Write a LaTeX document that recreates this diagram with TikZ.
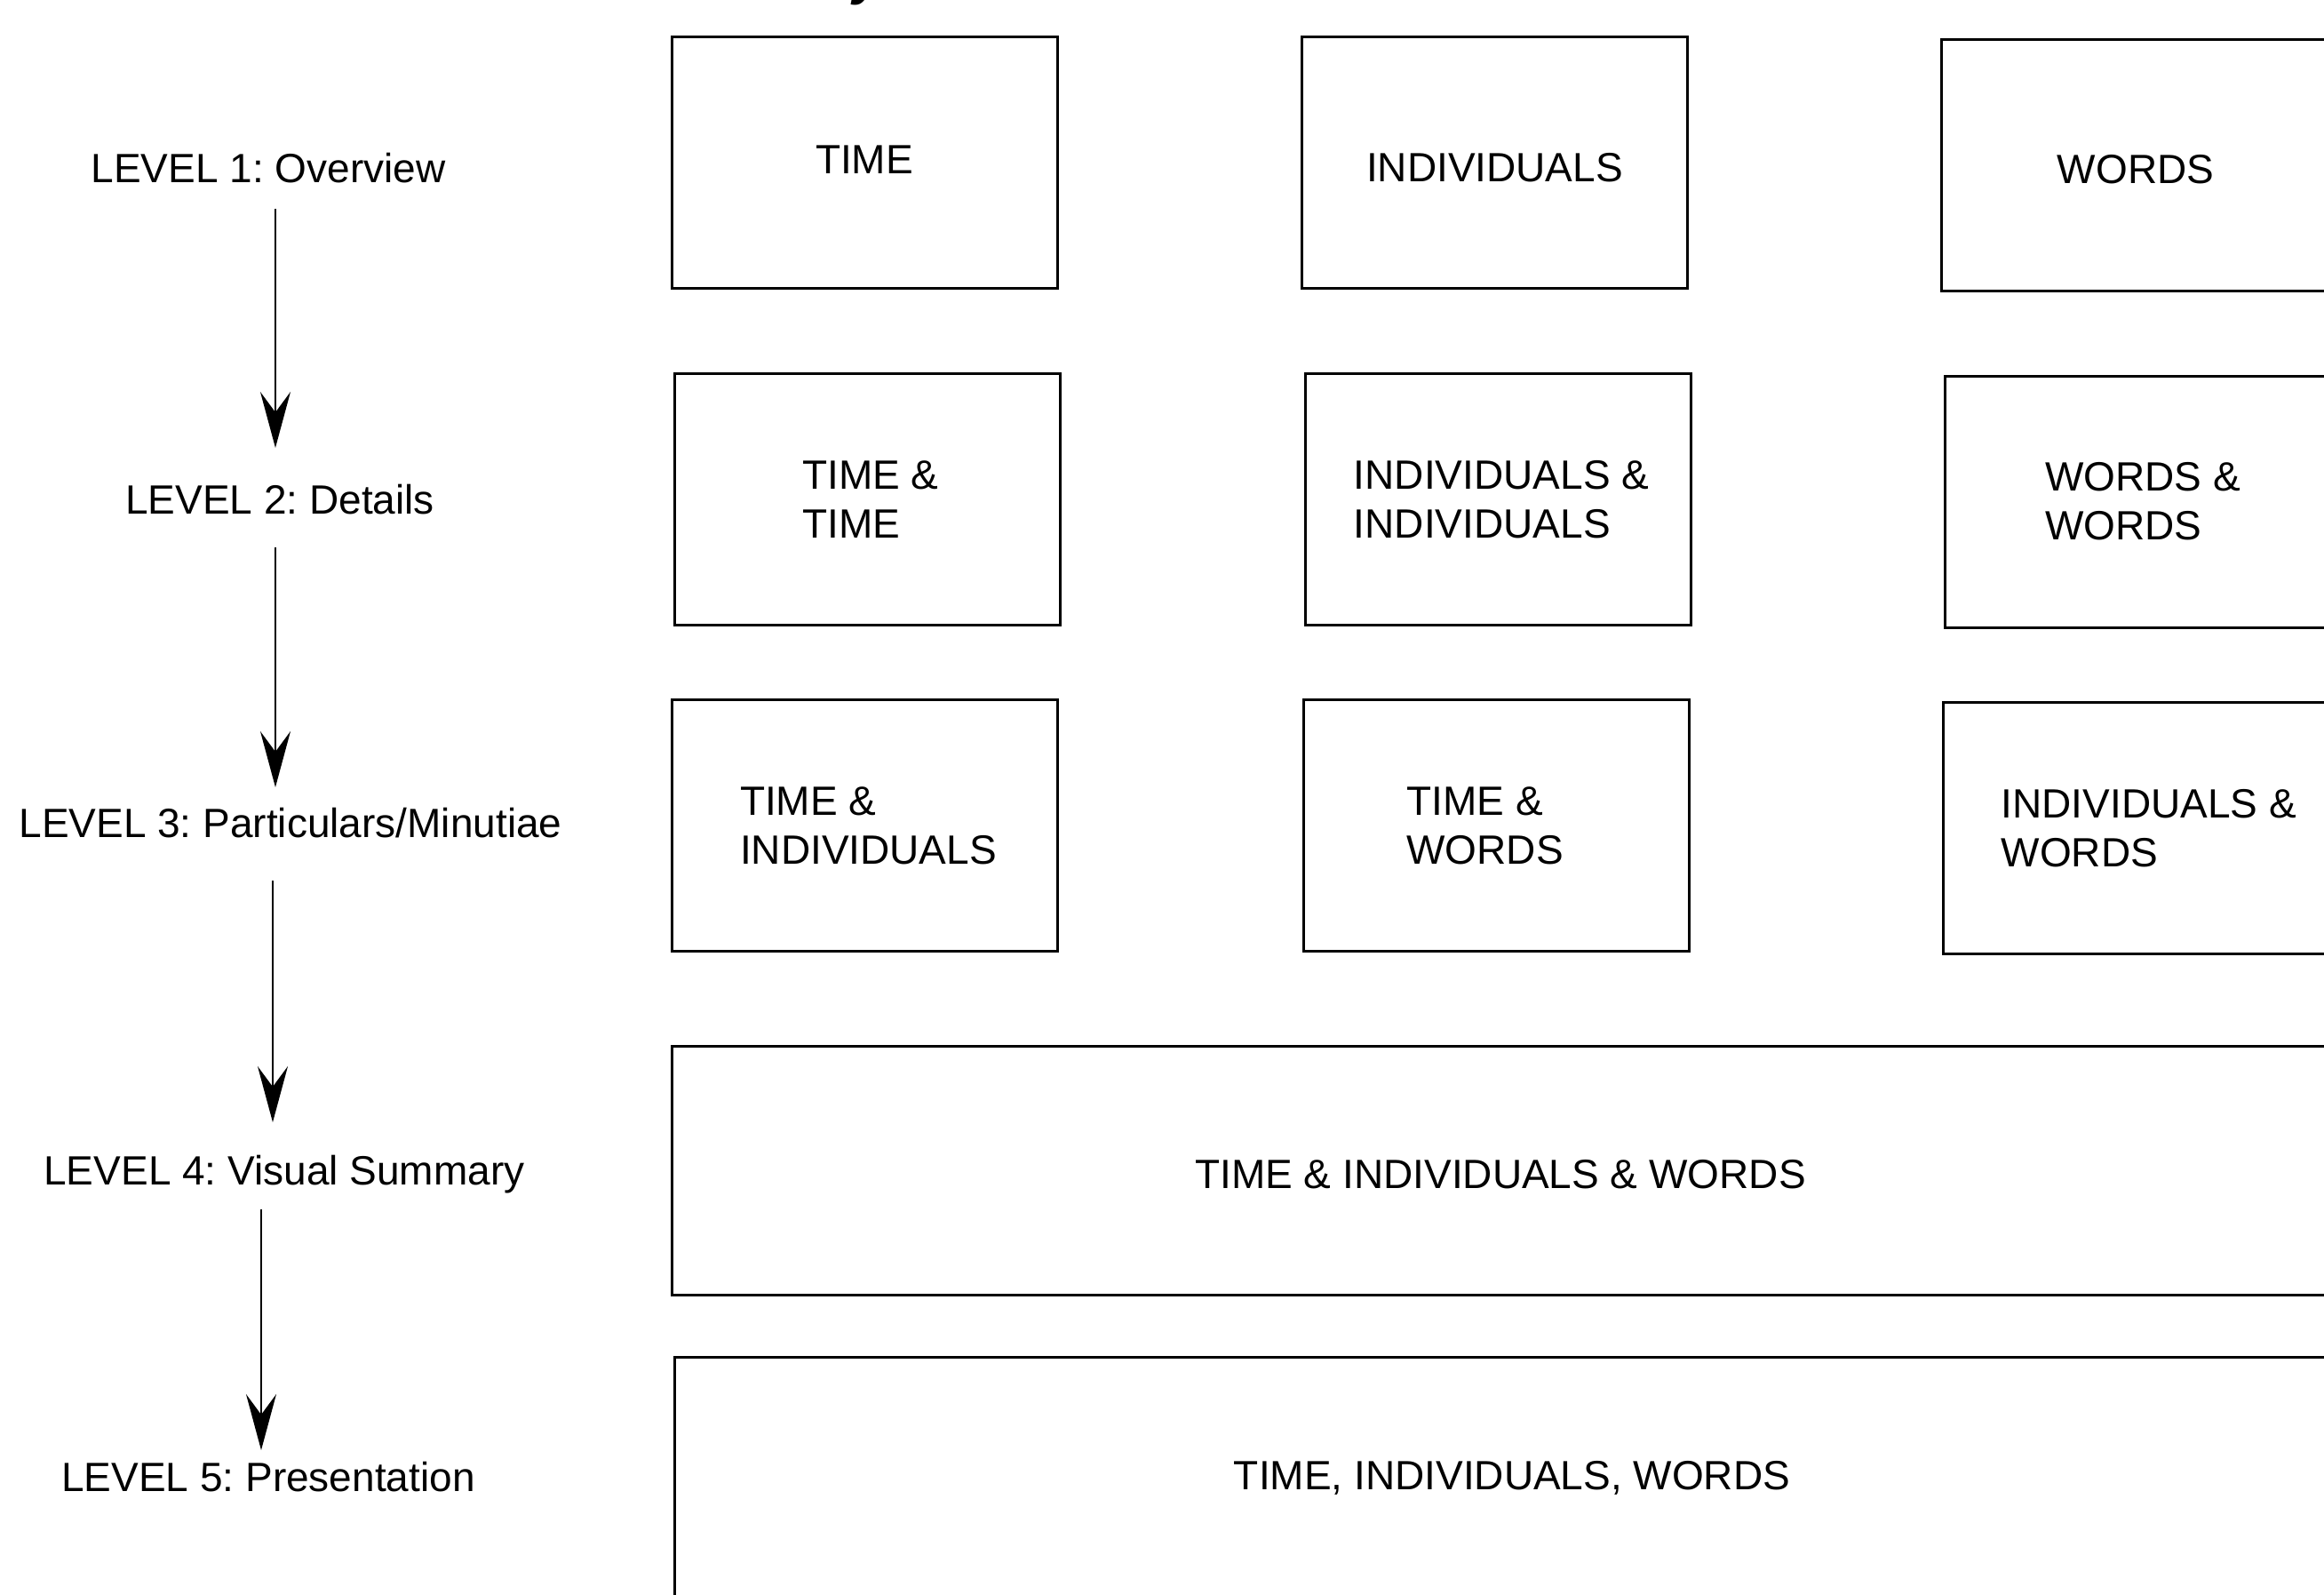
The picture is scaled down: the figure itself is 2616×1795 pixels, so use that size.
\documentclass[tikz,border=0pt]{standalone}
\usepackage{fontspec}
\setmainfont{Liberation Sans}
\usetikzlibrary{arrows.meta}
\begin{document}
\frenchspacing
\begin{tikzpicture}[x=0.25pt,y=-0.25pt,
  txt/.style={font=\fontsize{11.5pt}{13.75pt}\selectfont},
  box/.style={draw,line width=0.75pt,minimum width=108.5pt,minimum height=70.75pt,inner sep=0pt},
  intext/.style={txt,inner sep=0pt,align=left},
  lvl/.style={txt,inner sep=0pt},
  arr/.style={-{Stealth[length=15.75pt,width=8.5pt,inset=5.75pt]},line width=0.5pt}]
\useasboundingbox (0,0) rectangle (2616,1795);
\clip (0,0) rectangle (2616,1795);
% title fragment
\node[anchor=base west,inner sep=0pt,font=\fontsize{15pt}{18pt}\selectfont\bfseries\itshape] (ttl) at (960,-6) {y};
% level labels
\node[lvl] (L1) at (302,189) {LEVEL 1: Overview};
\node[lvl] (L2) at (315,562) {LEVEL 2: Details};
\node[lvl] (L3) at (327,926) {LEVEL 3: Particulars/Minutiae};
\node[lvl] (L4) at (320,1322) {LEVEL 4: Visual Summary};
\node[lvl] (L5) at (302,1662) {LEVEL 5: Presentation};
% arrow end points
\coordinate (a1s) at (310,235);  \coordinate (a1e) at (310,504);
\coordinate (a2s) at (310,616);  \coordinate (a2e) at (310,886);
\coordinate (a3s) at (307,991);  \coordinate (a3e) at (307,1263);
\coordinate (a4s) at (294,1361); \coordinate (a4e) at (294,1632);
\draw[arr] (a1s) -- (a1e);
\draw[arr] (a2s) -- (a2e);
\draw[arr] (a3s) -- (a3e);
\draw[arr] (a4s) -- (a4e);
% row 1
\node[box,label={[intext,yshift=0.9pt]center:TIME}] (b11) at (973,183.5) {};
\node[box,label={[intext,yshift=-1.4pt]center:INDIVIDUALS}] (b12) at (1682.5,183.5) {};
\node[box,minimum width=109.5pt,label={[intext,yshift=-1.1pt]center:WORDS}] (b13) at (2404,186) {};
% row 2
\node[box,label={[intext,xshift=1pt]center:TIME \&\\TIME}] (b21) at (976,562) {};
\node[box,label={[intext,xshift=1pt]center:INDIVIDUALS \&\\INDIVIDUALS}] (b22) at (1686,562) {};
\node[box,minimum width=109.5pt,label={[intext,xshift=1pt,yshift=0.3pt]center:WORDS \&\\WORDS}] (b23) at (2408,565.5) {};
% row 3
\node[box,label={[intext,xshift=1pt]center:TIME \&\\INDIVIDUALS}] (b31) at (973.5,929) {};
\node[box,label={[intext,xshift=-3.2pt]center:TIME \&\\WORDS}] (b32) at (1684.5,929) {};
\node[box,minimum width=109.5pt,label={[intext,xshift=3.2pt]center:INDIVIDUALS \&\\WORDS}] (b33) at (2406,932.5) {};
% row 4
\node[box,minimum width=466.5pt,minimum height=70pt,label={[intext,yshift=-0.85pt]center:TIME \& INDIVIDUALS \& WORDS}] (b4) at (1689,1318) {};
% row 5
\node[box,minimum width=466.5pt,minimum height=80pt] (b5) at (1692,1688) {};
\node[lvl] (t5) at (1702,1663) {TIME, INDIVIDUALS, WORDS};
\end{tikzpicture}
\end{document}
